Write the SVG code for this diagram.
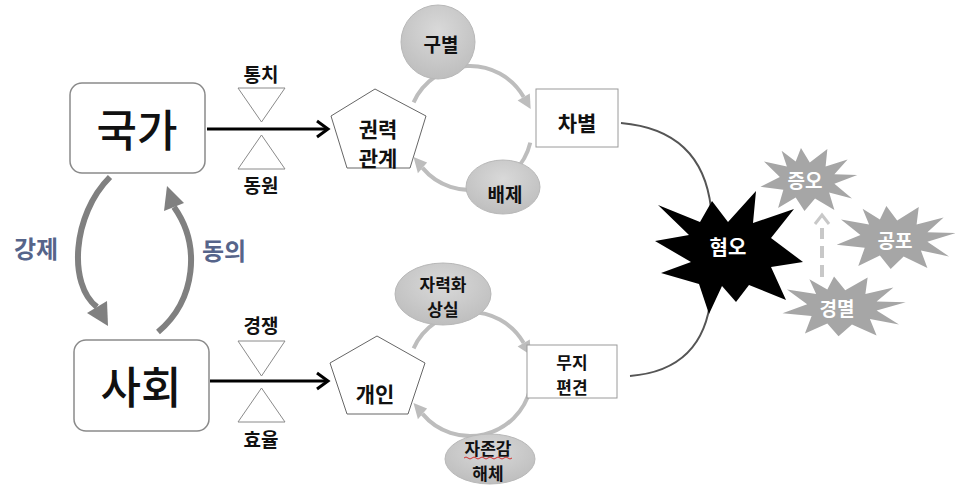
<svg xmlns="http://www.w3.org/2000/svg" width="955" height="485" viewBox="0 0 955 485">
<style>
  text { font-family: "Noto Sans CJK KR", "Noto Sans", sans-serif; text-anchor: middle; }
  .big { font-size: 44px; font-weight: 500; fill: #111; }
  .lbl { font-size: 19px; font-weight: 700; fill: #111; }
  .two { font-size: 17px; font-weight: 700; fill: #111; }
  .node { font-size: 21px; font-weight: 700; fill: #111; }
  .side { font-size: 24px; font-weight: 700; fill: #56648a; }
  .wht { font-size: 20px; font-weight: 700; fill: #fff; }
  .rbox { fill: #fff; stroke: #8a8a8a; stroke-width: 1.5; }
  .box { fill: #fff; stroke: #9a9a9a; stroke-width: 1; }
  .pent { fill: #fff; stroke: #666; stroke-width: 1; }
  .tri { fill: #fff; stroke: #8a8a8a; stroke-width: 1; }
  .ell { fill: url(#eg); stroke: #b8b8b8; stroke-width: 1; }
  .main { stroke: #000; stroke-width: 3; fill: none; }
  .cyc { stroke: #bdbdbd; stroke-width: 4; fill: none; }
  .cyh { fill: #bdbdbd; }
  .side-arc { stroke: #808080; stroke-width: 6; fill: none; }
  .sah { fill: #808080; }
  .rc { stroke: #555; stroke-width: 2; fill: none; }
  .gstar { fill: #a6a6a6; }
</style>
<defs>
  <radialGradient id="eg" cx="0.5" cy="0.35" r="0.7">
    <stop offset="0" stop-color="#d9d9d9"/>
    <stop offset="1" stop-color="#bcbcbc"/>
  </radialGradient>
  <polygon id="gs" points="-8,-32 2,-17 22,-31 20,-13 45,-20 30,-5 56,-4 30,5 50,20 24,14 30,32 8,20 -4,33 -14,19 -34,30 -28,11 -54,8 -32,-2 -50,-18 -24,-13 -30,-29 -14,-18"/>
</defs>

<g id="connectors">
  <line class="main" x1="207" y1="129" x2="328" y2="129"/>
  <polyline class="main" points="317,121 328,129 317,137"/>
  <line class="main" x1="210" y1="381" x2="328" y2="381"/>
  <polyline class="main" points="317,373 328,381 317,389"/>
  <path class="side-arc" d="M110,177 C72,215 68,285 97,307"/>
  <polygon class="sah" points="108,326 87,313 107,301"/>
  <path class="side-arc" d="M158,332 C196,300 201,245 174,207"/>
  <polygon class="sah" points="167,186 184,203 164,211"/>
  <path class="cyc" d="M413.6,102.3 A62,62 0 0 1 523.7,97"/>
  <polygon class="cyh" points="530.7,109 529.8,93.5 517.6,100.5"/>
  <path class="cyc" d="M530.3,142.6 A62,62 0 0 1 422.5,167.9"/>
  <polygon class="cyh" points="413.5,157 417.9,173.3 427.1,162.5"/>
  <path class="cyc" d="M413.6,348.3 A62,62 0 0 1 523.7,343"/>
  <polygon class="cyh" points="530.7,355 529.8,339.5 517.6,346.5"/>
  <path class="cyc" d="M530.3,388.6 A62,62 0 0 1 422.5,413.9"/>
  <polygon class="cyh" points="413.5,403 417.9,419.3 427.1,408.5"/>
  <path class="rc" d="M621,123 Q702,130 711,208"/>
  <path class="rc" d="M711,296 Q704,370 630,376"/>
  <line x1="822" y1="277" x2="822" y2="228" stroke="#c8c8c8" stroke-width="4" stroke-dasharray="12,7"/>
  <polyline points="815,224 822,215 829,224" fill="none" stroke="#c8c8c8" stroke-width="3"/>
</g>

<g id="state">
  <rect class="rbox" x="70" y="83" width="135" height="90" rx="12"/>
  <text class="big" x="137" y="147">국가</text>
</g>
<g id="society">
  <rect class="rbox" x="74" y="340" width="135" height="91" rx="12"/>
  <text class="big" x="141" y="404">사회</text>
</g>

<g id="rule">
  <polygon class="tri" points="238,88 285,88 261.5,122"/>
  <text class="lbl" x="261" y="82">통치</text>
</g>
<g id="mobilize">
  <polygon class="tri" points="238,169 285,169 261.5,135"/>
  <text class="lbl" x="261" y="193">동원</text>
</g>
<g id="compete">
  <polygon class="tri" points="238,341 285,341 261.5,376"/>
  <text class="lbl" x="261" y="333">경쟁</text>
</g>
<g id="efficiency">
  <polygon class="tri" points="238,422 285,422 261.5,388"/>
  <text class="lbl" x="261" y="447">효율</text>
</g>

<g id="coercion"><text class="side" x="36" y="258">강제</text></g>
<g id="consent"><text class="side" x="224" y="260">동의</text></g>

<g id="power">
  <polygon class="pent" points="375,89 426,116 410,168 347,168 331,116"/>
  <text class="node" x="378" y="137">권력</text>
  <text class="node" x="378" y="166">관계</text>
</g>
<g id="distinguish">
  <ellipse class="ell" cx="438" cy="42" rx="37" ry="37"/>
  <text class="lbl" x="441" y="52">구별</text>
</g>
<g id="discrimination">
  <rect class="box" x="536" y="89" width="82" height="58"/>
  <text class="node" x="577" y="131">차별</text>
</g>
<g id="exclusion">
  <ellipse class="ell" cx="503" cy="187" rx="37" ry="27"/>
  <text class="lbl" x="505" y="202">배제</text>
</g>

<g id="individual">
  <polygon class="pent" points="377,336 425,363 408,414 347,414 330,363"/>
  <text class="node" x="375" y="402">개인</text>
</g>
<g id="powerlessness">
  <ellipse class="ell" cx="443" cy="294" rx="48" ry="31"/>
  <text class="two" x="443" y="291">자력화</text>
  <text class="two" x="443" y="316">상실</text>
</g>
<g id="ignorance">
  <rect class="box" x="527" y="345" width="90" height="53"/>
  <text class="two" x="572" y="369">무지</text>
  <text class="two" x="572" y="394">편견</text>
</g>
<g id="selfesteem">
  <ellipse class="ell" cx="490" cy="459" rx="45" ry="25"/>
  <text class="two" x="488" y="455">자존감</text>
  <path d="M464,458 q2,-2 4,0 t4,0 t4,0 t4,0 t4,0 t4,0 t4,0 t4,0 t4,0 t4,0 t4,0 t4,0" fill="none" stroke="#d03030" stroke-width="1"/>
  <text class="two" x="488" y="480">해체</text>
</g>

<g id="hatred">
  <polygon fill="#000" points="712,201 728,222 756,191 753,223 794,209 771,238 803,262 771,267 786,300 749,285 736,302 722,286 709,314 699,284 661,273 691,262 655,241 689,235 658,205 700,222"/>
  <text class="wht" x="728" y="255">혐오</text>
</g>
<g id="abhorrence">
  <use href="#gs" class="gstar" transform="translate(808,179) scale(0.88,0.97)"/>
  <text class="wht" x="805" y="188" style="font-size:19px">증오</text>
</g>
<g id="fear">
  <use href="#gs" class="gstar" transform="translate(895,237) scale(1.08,0.97)"/>
  <text class="wht" x="895" y="248" style="font-size:19px">공포</text>
</g>
<g id="contempt">
  <use href="#gs" class="gstar" transform="translate(843,306) scale(1.12,0.92)"/>
  <text class="wht" x="837" y="316" style="font-size:19px">경멸</text>
</g>
</svg>
